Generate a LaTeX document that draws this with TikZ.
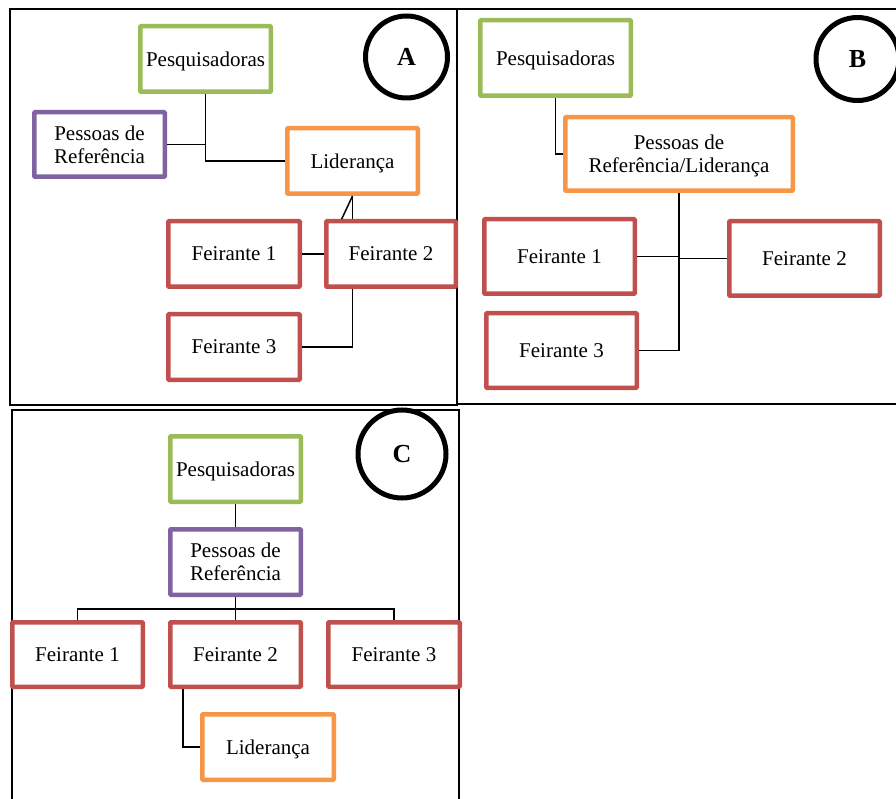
\documentclass[tikz,border=0pt]{standalone}
\usepackage{fontspec}
\setmainfont{Liberation Serif}
\usetikzlibrary{calc}
\definecolor{cgreen}{HTML}{9BBB59}
\definecolor{cpurple}{HTML}{8064A2}
\definecolor{corange}{HTML}{F79646}
\definecolor{cred}{HTML}{C0504D}
\tikzset{
  box/.style={draw, line width=4.5pt, fill=white, align=center, inner sep=0pt,
    text depth=0pt, font=\fontsize{21}{23}\selectfont, rounded corners=0.8pt},
  greenbox/.style={box, draw=cgreen},
  purplebox/.style={box, draw=cpurple},
  orangebox/.style={box, draw=corange},
  redbox/.style={box, draw=cred},
  conn/.style={line width=1.5pt, black},
  frame/.style={line width=1.4pt, black},
  badge/.style={draw, circle, line width=5pt, inner sep=0pt, font=\fontsize{26}{28}\selectfont\bfseries}
}
\begin{document}
\begin{tikzpicture}[x=1pt, y=-1pt]
\useasboundingbox (0,0) rectangle (896,799);
\clip (0,0) rectangle (896,799);
\fill[white] (0,0) rectangle (896,799);
% frames
\draw[frame] (10,9) rectangle (457,405);
\draw[frame] (457,9) rectangle (900,404);
\draw[frame] (12,410) rectangle (459,810);

% ---------- Panel A ----------
\node[badge, minimum size=82pt] (acirc) at (406.5,57) {A};
\node[greenbox, minimum width=130.5pt, minimum height=65.5pt] (apesq) at (205.5,59) {Pesquisadoras};
\node[purplebox, minimum width=130.5pt, minimum height=64.5pt] (apess) at (99.5,144.5) {Pessoas de\\Referência};
\node[orangebox, minimum width=130.5pt, minimum height=65.5pt] (alid) at (352.5,161) {Liderança};
\node[redbox, minimum width=131.5pt, minimum height=65.5pt] (af1) at (234,254) {Feirante 1};
\node[redbox, minimum width=129.5pt, minimum height=65.5pt] (af2) at (391,254) {Feirante 2};
\node[redbox, minimum width=131.5pt, minimum height=65.5pt] (af3) at (234,347) {Feirante 3};
\coordinate (aslant) at (341.7,219);
\draw[conn] (apesq.south) |- (alid.west);
\draw[conn] (apess.east) -- (apess.east -| apesq.south);
\draw[conn] (alid.south) -- (alid.south |- af2.north);
\draw[conn] (alid.south) -- (aslant);
\draw[conn] (af1.east) -- (af2.west);
\draw[conn] (af2.south -| alid.south) |- (af3.east);

% ---------- Panel B ----------
\node[badge, minimum size=83pt] (bcirc) at (857.5,59) {B};
\node[greenbox, minimum width=150.5pt, minimum height=75.5pt] (bpesq) at (555.5,58) {Pesquisadoras};
\node[orangebox, minimum width=227.5pt, minimum height=73.5pt] (bpl) at (679,154) {Pessoas de\\Referência/Liderança};
\node[redbox, minimum width=150.5pt, minimum height=74.5pt] (bf1) at (559.5,256.5) {Feirante 1};
\node[redbox, minimum width=150.5pt, minimum height=74.5pt] (bf2) at (804.5,258.5) {Feirante 2};
\node[redbox, minimum width=150.5pt, minimum height=74.5pt] (bf3) at (561.5,350.5) {Feirante 3};
\draw[conn] (bpesq.south) |- (bpl.west);
\draw[conn] (bpl.south) -- (bpl.south |- bf3.east);
\draw[conn] (bf1.east) -- (bf1.east -| bpl.south);
\draw[conn] (bf2.west) -- (bf2.west -| bpl.south);
\draw[conn] (bf3.east) -- (bf3.east -| bpl.south);

% ---------- Panel C ----------
\node[badge, minimum size=88pt] (ccirc) at (402,454) {C};
\node[greenbox, minimum width=130.5pt, minimum height=65.5pt] (cpesq) at (235.5,469) {Pesquisadoras};
\node[purplebox, minimum width=130.5pt, minimum height=65.5pt] (cpess) at (235.5,562) {Pessoas de\\Referência};
\node[redbox, minimum width=130.5pt, minimum height=64.5pt] (cf1) at (77.5,654.5) {Feirante 1};
\node[redbox, minimum width=130.5pt, minimum height=64.5pt] (cf2) at (235.5,654.5) {Feirante 2};
\node[redbox, minimum width=131.5pt, minimum height=64.5pt] (cf3) at (394,654.5) {Feirante 3};
\node[orangebox, minimum width=131.5pt, minimum height=65.5pt] (clid) at (268,747) {Liderança};
\coordinate (cbus) at (235.5,609);
\draw[conn] (cpesq.south) -- (cpess.north);
\draw[conn] (cpess.south) -- (cf2.north);
\draw[conn] (cf1.north) |- (cbus) -| (cf3.north);
\draw[conn] ($(cf2.south)+(-52.5,0)$) |- (clid.west);
\end{tikzpicture}
\end{document}
